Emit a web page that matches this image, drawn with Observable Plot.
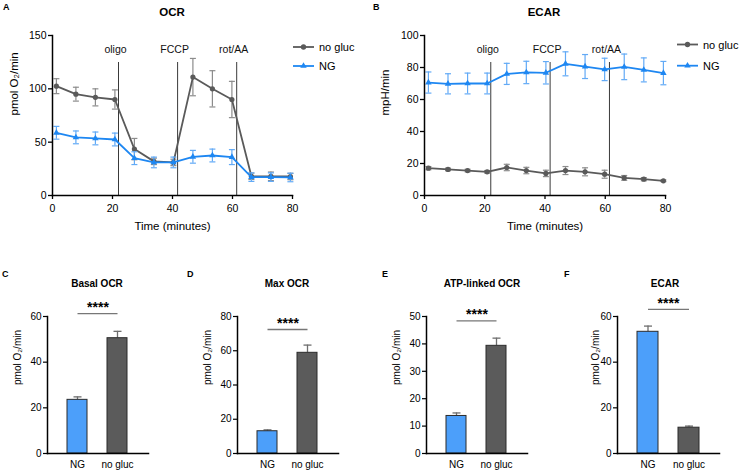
<!DOCTYPE html>
<html>
<head>
<meta charset="utf-8">
<script src="https://cdn.jsdelivr.net/npm/d3@7"></script>
<script src="https://cdn.jsdelivr.net/npm/@observablehq/plot@0.6"></script>
<style>
html,body{margin:0;padding:0;background:#fff;}
#fig{position:relative;width:740px;height:470px;overflow:hidden;font-family:"Liberation Sans",Arial,Helvetica,sans-serif;}
#fig > div{position:absolute;}
#fig svg{overflow:visible;}
</style>
</head>
<body>
<div id="fig"></div>
<script>
// ---------------- data ----------------
const times = [1.3, 7.8, 14.3, 20.8, 27.3, 33.8, 40.3, 46.8, 53.3, 59.8, 66.3, 72.8, 79.3];
const timeTicks = [0, 20, 40, 60, 80];

const ocrNoGluc    = [102.5, 95, 92, 90, 43.5, 32, 31, 111, 100, 90, 18, 18, 17.8];
const ocrNoGlucSem = [7, 6.5, 8, 9, 10, 3, 3, 17.5, 17, 17, 3, 4, 3];
const ocrNG        = [58.8, 54.5, 53.5, 52.5, 35, 31, 31, 36.3, 37.5, 36, 17.2, 17.2, 16.9];
const ocrNGSem     = [6, 6, 6, 6, 6, 5, 5, 6, 6, 7, 4, 4, 4];
const ocrTicks = [0, 50, 100, 150];

const ecarNoGluc    = [17.1, 16.3, 15.6, 14.8, 17.5, 15.6, 13.8, 15.6, 14.8, 13.3, 11, 10.2, 9.2];
const ecarNoGlucSem = [1, 0.8, 0.8, 0.8, 2, 2, 2, 2.5, 2.5, 2.5, 1.5, 1, 0.5];
const ecarNG        = [70.6, 69.8, 70, 70, 76, 76.9, 76.7, 82.3, 80.6, 78.8, 80.4, 78.5, 76.5];
const ecarNGSem     = [6.6, 6.3, 6.5, 6.5, 6.6, 7, 7, 7.5, 7.5, 7, 8, 7.5, 7.3];
const ecarTicks = [0, 20, 40, 60, 80, 100];

const injectionTimes  = [22, 41.7, 61.4];
const injectionLabels = ["oligo", "FCCP", "rot/AA"];

const seriesNames = ["no gluc", "NG"];
const groups = ["NG", "no gluc"];

const basalOCR = [23.5, 50.5],  basalOCRSem = [1.3, 3];
const maxOCR   = [13, 58.8],    maxOCRSem   = [0.8, 4.5];
const atpOCR   = [13.7, 39.3],  atpOCRSem   = [1.1, 2.8];
const ecarBar  = [53.3, 11.3],  ecarBarSem  = [2.5, 0.7];
const sigText = "****";
const sigBracket = [61.3, 72.4, 48.4, 63.1]; // bracket heights (C, D, E, F)

const xLabel = "Time (minutes)";
const ocrLabel = "pmol O\u2082/min";
const ecarLabel = "mpH/min";

// ---------------- styles ----------------
const FONT = '"Liberation Sans", Arial, Helvetica, sans-serif';
const C_GRAY = "#5a5a5a", C_BLUE = "#1e87f2";
const C_GRAY_ERR = "#8c8c8c", C_BLUE_ERR = "#62aaf6";
const C_BAR_NG = "#4c9ffa", C_BAR_NOG = "#5b5b5b";

const fig = document.getElementById("fig");
function place(el, left, top) {
  const d = document.createElement("div");
  d.style.left = left + "px"; d.style.top = top + "px";
  d.appendChild(el); fig.appendChild(d);
}
const capSymbol = {draw(ctx, size) { const w = Math.sqrt(size / Math.PI); ctx.moveTo(-w, 0); ctx.lineTo(w, 0); }};
const baseStyle = {fontFamily: FONT, background: "transparent", color: "#000", overflow: "visible"};

function seriesRows(vals, sems) {
  return times.map((t, i) => ({t, v: vals[i], lo: vals[i] - sems[i], hi: vals[i] + sems[i]}));
}

function linePanel(cfg) {
  const noG = seriesRows(cfg.noGluc, cfg.noGlucSem);
  const ng = seriesRows(cfg.ng, cfg.ngSem);
  const inj = injectionTimes.map((t, i) => ({t, label: injectionLabels[i]}));
  const marks = [
    Plot.ruleX(injectionTimes, {stroke: "#3a3a3a", strokeWidth: 1, insetTop: 27}),
    Plot.text(inj, {x: "t", text: "label", frameAnchor: "top", dy: 10, dx: -3, fontSize: 10.5, fill: "#111"})
  ];
  for (const [d, c, ce, sym] of [[noG, C_GRAY, C_GRAY_ERR, "circle"], [ng, C_BLUE, C_BLUE_ERR, "triangle"]]) {
    marks.push(
      Plot.ruleX(d, {x: "t", y1: "lo", y2: "hi", stroke: ce, strokeWidth: 1.2}),
      Plot.dot(d, {x: "t", y: "lo", symbol: capSymbol, r: 3, stroke: ce, fill: "none", strokeWidth: 1.2}),
      Plot.dot(d, {x: "t", y: "hi", symbol: capSymbol, r: 3, stroke: ce, fill: "none", strokeWidth: 1.2}),
      Plot.line(d, {x: "t", y: "v", stroke: c, strokeWidth: 1.8}),
      Plot.dot(d, {x: "t", y: "v", symbol: sym, r: sym === "circle" ? 2.6 : 2.4, fill: c, stroke: "none"})
    );
  }
  marks.push(
    Plot.axisX({ticks: timeTicks, tickSize: 4, tickPadding: 5, label: null, fontSize: 10.5, strokeWidth: 1.3}),
    Plot.axisY({ticks: cfg.yTicks, tickSize: 4, tickPadding: 2, label: null, fontSize: 10.5, strokeWidth: 1.3}),
    Plot.frame({anchor: "left", strokeWidth: 1.5}),
    Plot.frame({anchor: "bottom", strokeWidth: 1.5}),
    Plot.text([cfg.yLabel], {text: d => d, frameAnchor: "left", rotate: -90, dx: cfg.yLabelDx, fontSize: 11.5}),
    Plot.text([xLabel], {text: d => d, frameAnchor: "bottom", lineAnchor: "middle", dy: 31, fontSize: 11.5})
  );
  return Plot.plot({
    width: 370, height: 240,
    marginLeft: cfg.mL, marginRight: cfg.mR, marginTop: 35, marginBottom: 45,
    style: baseStyle,
    x: {domain: [0, 80]},
    y: {domain: [0, cfg.yMax]},
    marks
  });
}

function barPanel(cfg) {
  const rows = groups.map((g, i) => ({g, v: cfg.values[i], hi: cfg.values[i] + cfg.sems[i]}));
  return Plot.plot({
    width: 185, height: 220,
    marginLeft: cfg.mL, marginRight: cfg.mR, marginTop: 66, marginBottom: 17,
    style: baseStyle,
    x: {type: "band", domain: groups, paddingInner: 0.49, paddingOuter: 0.48},
    y: {domain: [0, cfg.yMax]},
    color: {domain: groups, range: [C_BAR_NG, C_BAR_NOG]},
    marks: [
      Plot.ruleX(rows, {x: "g", y1: "v", y2: "hi", stroke: "#6e6e6e", strokeWidth: 1.3}),
      Plot.dot(rows, {x: "g", y: "hi", symbol: capSymbol, r: 4, stroke: "#6e6e6e", fill: "none", strokeWidth: 1.3}),
      Plot.barY(rows, {x: "g", y: "v", fill: "g", stroke: "#2b2b2b", strokeWidth: 1}),
      Plot.link([groups], {x1: d => d[0], x2: d => d[1], y1: () => cfg.sig, y2: () => cfg.sig, stroke: "#777", strokeWidth: 1.3}),
      Plot.text([sigText], {text: d => d, y: () => cfg.sig, dy: -6, fontSize: 14, fontWeight: "bold", letterSpacing: 1.8}),
      Plot.axisX({tickSize: 0, tickPadding: 7, label: null, fontSize: 10}),
      Plot.axisY({ticks: cfg.yTicks, tickSize: 4, tickPadding: 2, label: null, fontSize: 10, strokeWidth: 1.2}),
      Plot.frame({anchor: "left", strokeWidth: 1.5}),
      Plot.frame({anchor: "bottom", strokeWidth: 1.5}),
      Plot.text([ocrLabel], {text: d => d, frameAnchor: "left", rotate: -90, dx: cfg.yLabelDx, fontSize: 10})
    ]
  });
}

// ---------------- panels ----------------
place(linePanel({noGluc: ocrNoGluc, noGlucSem: ocrNoGlucSem, ng: ocrNG, ngSem: ocrNGSem,
  yMax: 150, yTicks: ocrTicks, yLabel: ocrLabel, yLabelDx: -38, mL: 52, mR: 78}), 0, 0);
place(linePanel({noGluc: ecarNoGluc, noGlucSem: ecarNoGlucSem, ng: ecarNG, ngSem: ecarNGSem,
  yMax: 100, yTicks: ecarTicks, yLabel: ecarLabel, yLabelDx: -39, mL: 54, mR: 75}), 370, 0);

place(barPanel({values: basalOCR, sems: basalOCRSem, yMax: 60, yTicks: [0, 20, 40, 60], sig: sigBracket[0], mL: 47, mR: 37, yLabelDx: -30}), 0, 250);
place(barPanel({values: maxOCR, sems: maxOCRSem, yMax: 80, yTicks: [0, 20, 40, 60, 80], sig: sigBracket[1], mL: 52, mR: 32, yLabelDx: -30}), 185, 250);
place(barPanel({values: atpOCR, sems: atpOCRSem, yMax: 50, yTicks: [0, 10, 20, 30, 40, 50], sig: sigBracket[2], mL: 56, mR: 28, yLabelDx: -30}), 370, 250);
place(barPanel({values: ecarBar, sems: ecarBarSem, yMax: 60, yTicks: [0, 20, 40, 60], sig: sigBracket[3], mL: 62, mR: 21, yLabelDx: -22}), 555, 250);

// ---------------- titles, panel letters, legends ----------------
const ov = d3.select(fig).append("div").style("left", "0px").style("top", "0px")
  .append("svg").attr("width", 740).attr("height", 470)
  .style("font-family", FONT).style("pointer-events", "none");

const titleLayout = [
  {text: "OCR", x: 172, y: 16, size: 11.5},
  {text: "ECAR", x: 544, y: 16, size: 11.5},
  {text: "Basal OCR", x: 97, y: 287, size: 10},
  {text: "Max OCR", x: 287, y: 287, size: 10},
  {text: "ATP-linked OCR", x: 482, y: 287, size: 10},
  {text: "ECAR", x: 665, y: 287, size: 10}
];
ov.selectAll("text.title").data(titleLayout).join("text").attr("class", "title")
  .attr("x", d => d.x).attr("y", d => d.y).attr("text-anchor", "middle")
  .attr("font-weight", "bold").attr("font-size", d => d.size).text(d => d.text);

const letterLayout = [
  {text: "A", x: 3, y: 10}, {text: "B", x: 373, y: 10},
  {text: "C", x: 2, y: 277}, {text: "D", x: 187, y: 277},
  {text: "E", x: 382, y: 277}, {text: "F", x: 564, y: 277}
];
ov.selectAll("text.letter").data(letterLayout).join("text").attr("class", "letter")
  .attr("x", d => d.x).attr("y", d => d.y).attr("font-weight", "bold").attr("font-size", 9).text(d => d.text);

const legendLayout = [
  {x: 293, ys: [47, 66]},
  {x: 677, ys: [44.5, 65.7]}
];
const legendStyle = [
  {color: C_GRAY, sym: d3.symbolCircle, size: 22},
  {color: C_BLUE, sym: d3.symbolTriangle, size: 18}
];
for (const L of legendLayout) {
  seriesNames.forEach((name, i) => {
    const g = ov.append("g").attr("transform", `translate(${L.x},${L.ys[i]})`);
    g.append("line").attr("x1", 0).attr("x2", 21).attr("stroke", legendStyle[i].color).attr("stroke-width", 1.8);
    g.append("path").attr("transform", "translate(10.5,0)").attr("d", d3.symbol(legendStyle[i].sym, legendStyle[i].size)()).attr("fill", legendStyle[i].color);
    g.append("text").attr("x", 26).attr("y", 4).attr("font-size", 11).text(name);
  });
}
</script>
</body>
</html>
